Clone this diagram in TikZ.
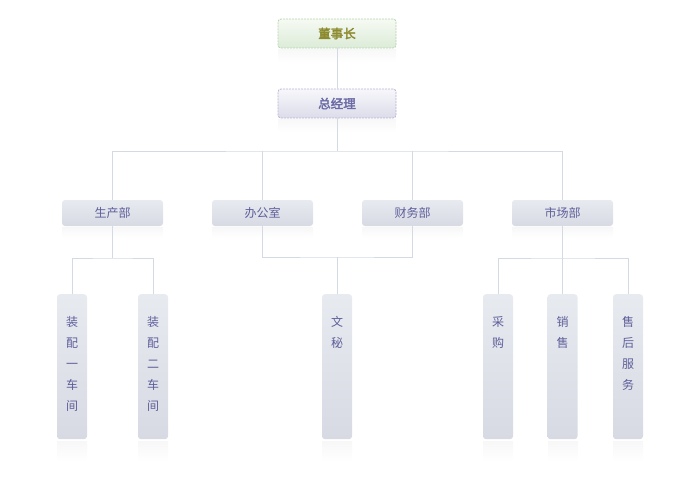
\documentclass[tikz,border=0pt]{standalone}
\usepackage{fontspec}
\setmainfont{Noto Sans CJK SC}[AutoFakeBold=2.5]
\definecolor{linec}{HTML}{D3DAE3}
\definecolor{txt}{HTML}{5E5E9A}
\definecolor{ceotxt}{HTML}{8C8A2E}
\definecolor{gmtxt}{HTML}{6A6AA4}
\definecolor{btop}{HTML}{E7EAEF}
\definecolor{bbot}{HTML}{D7DAE3}
\definecolor{gtop}{HTML}{F6FAF3}
\definecolor{gbot}{HTML}{DCEBD8}
\definecolor{gborder}{HTML}{B5D3AE}
\definecolor{ptop}{HTML}{F7F7FB}
\definecolor{pbot}{HTML}{DCDCEA}
\definecolor{pborder}{HTML}{B6B4D4}
\newcommand{\vtxt}[1]{\parbox[t][145pt][t]{30pt}{\centering\vspace*{22pt}\fontsize{12pt}{21pt}\selectfont #1\par}}
\begin{document}
\begin{tikzpicture}[x=1pt,y=-1pt,
  conn/.style={draw=linec,line width=0.9pt},
  topbox/.style={minimum width=118pt,minimum height=29pt,rounded corners=3pt,inner sep=0pt,font=\fontsize{12.5pt}{14pt}\selectfont\bfseries,dashed,line width=0.8pt,dash pattern=on 2pt off 1pt},
  ceo/.style={topbox,draw=gborder,top color=gtop,bottom color=gbot,text=ceotxt},
  gm/.style={topbox,draw=pborder,top color=ptop,bottom color=pbot,text=gmtxt},
  dept/.style={minimum width=101pt,minimum height=26pt,rounded corners=3pt,inner sep=0pt,top color=btop,bottom color=bbot,text=txt,font=\fontsize{12pt}{14pt}\selectfont},
  leaf/.style={minimum width=30pt,minimum height=145pt,rounded corners=3pt,inner sep=0pt,top color=btop,bottom color=bbot,text=txt,anchor=north},
  refl/.style={top color=black!3,bottom color=white,draw=none}
]
\useasboundingbox (0,0) rectangle (700,485);
% reflections
\foreach \x/\y/\w/\h in {337/48/118/14, 337/118/118/14}
  \fill[refl] (\x-\w/2,\y+1) rectangle (\x+\w/2,\y+\h);
\foreach \x in {112.5,262.5,412.5,562.5}
  \fill[refl] (\x-50.5,227) rectangle (\x+50.5,238);
\foreach \x in {72,153,337,498,563,628}
  \fill[refl] (\x-15,441) rectangle (\x+15,462);

\node[ceo] (ceo) at (337,33.5) {董事长};
\node[gm] (gm) at (337,103.5) {总经理};

\node[dept] (d1) at (112.5,213) {生产部};
\node[dept] (d2) at (262.5,213) {办公室};
\node[dept] (d3) at (412.5,213) {财务部};
\node[dept] (d4) at (562.5,213) {市场部};

\node[leaf] (l1) at (72,294) {\vtxt{装\\配\\一\\车\\间}};
\node[leaf] (l2) at (153,294) {\vtxt{装\\配\\二\\车\\间}};
\node[leaf] (l3) at (337,294) {\vtxt{文\\秘}};
\node[leaf] (l4) at (498,294) {\vtxt{采\\购}};
\node[leaf] (l5) at (562.5,294) {\vtxt{销\\售}};
\node[leaf] (l6) at (628,294) {\vtxt{售\\后\\服\\务}};

\coordinate (bus) at (337,151);
\coordinate (j1) at (112.5,258);
\coordinate (j2) at (337,257);
\coordinate (j4) at (562.5,258);

\draw[conn] (ceo) -- (gm);
\draw[conn] (gm) -- (bus);
\draw[conn] (d1.north) |- (bus) -| (d4.north);
\draw[conn] (d2.north) -- (d2.north |- bus);
\draw[conn] (d3.north) -- (d3.north |- bus);
\draw[conn] (d1) -- (j1);
\draw[conn] (l1.north) |- (j1) -| (l2.north);
\draw[conn] (d2.south) |- (j2) -| (d3.south);
\draw[conn] (j2) -- (l3.north);
\draw[conn] (d4) -- (j4);
\draw[conn] (l4.north) |- (j4) -| (l6.north);
\draw[conn] (j4) -- (l5.north);
\end{tikzpicture}
\end{document}
